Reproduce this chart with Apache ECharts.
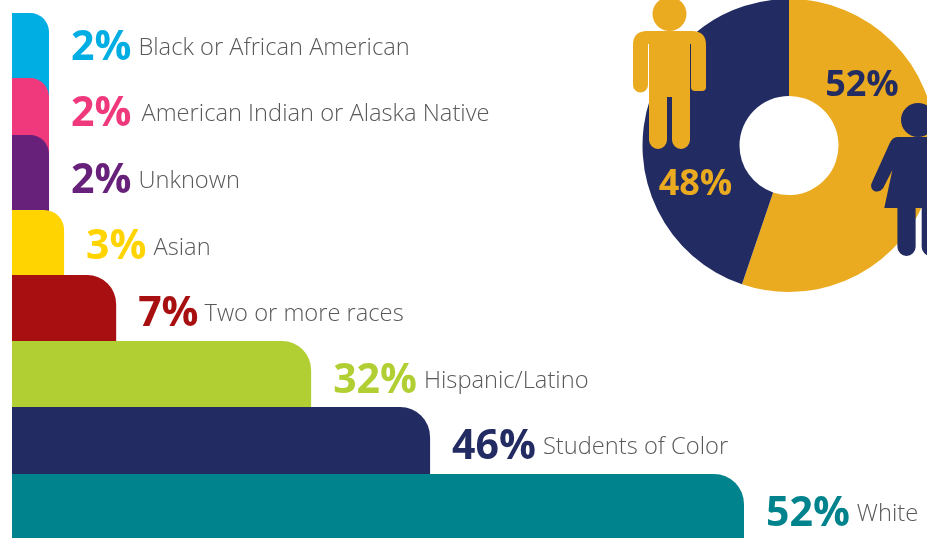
<!DOCTYPE html>
<html><head><meta charset="utf-8">
<style>html,body{margin:0;padding:0;background:#fff}#c{width:927px;height:538px}</style>
<script src="https://cdn.jsdelivr.net/npm/echarts@6/dist/echarts.min.js"></script>
</head><body><div id="c"></div>
<script>
// Data
const groupNames = ['Black or African American','American Indian or Alaska Native','Unknown','Asian','Two or more races','Hispanic/Latino','Students of Color','White'];
const groupPercents = [2,2,2,3,7,32,46,52];
// Bar lengths as drawn in the picture (the artwork is not to scale with its printed numbers)
const drawnLengths = [2.63,2.63,2.63,3.7,7.4,21.25,29.7,52];
// Tier thickness as drawn
const drawnThickness = [65,57,75,65,66,66,67,64];
const genderLabels = ['52%','48%'];
// Slice shares as drawn
const drawnShares = [55.2,44.8];

// Styles
const barColors = ['#00AEE3','#F0397C','#68217A','#FFD400','#A80F10','#B1CF33','#222B62','#00838C'];
const cornerRadii = [19,19,19,20,29,29,30,30];
const sliceColors = ['#EBAB21','#222B62'];
const labelColors = ['#222B62','#EBAB21'];
const labelSpots = [[862,86],[695.5,185]];
const firstTop = 13, firstTextY = 48, textStep = 66.6, textGap = 22;
const nameGaps = [7,10,7,7,6,7,7,7];

const tierTops = [];
drawnThickness.reduce((t, h, i) => { tierTops[i] = t; return t + h; }, firstTop);

const manPath = 'M633 45Q633 31 647 31H692Q706 31 706 45V87Q706 91 702 91H695Q691 91 691 87V44H690V140A9 9 0 0 1 672 140V97H667V140A9 9 0 0 1 649 140V44H648V85A7.5 7.5 0 0 1 633 85Z';
const womanPath = 'M898 137H950V208H940V247A9 9 0 0 1 922 247V208H916V247A9 9 0 0 1 898 247V208H885L893 170L884 188Q880 193 875 191Q870 188 873 182L890 144Q893 137 898 137Z';

const chart = echarts.init(document.getElementById('c'), null, {renderer:'canvas'});
chart.setOption({
  animation:false,
  backgroundColor:'#fff',
  grid:{left:12,top:0,width:915,height:538},
  xAxis:{type:'value',min:0,max:65,show:false},
  yAxis:{type:'value',min:0,max:538,inverse:true,show:false},
  series:[
    {
      type:'custom',
      coordinateSystem:'cartesian2d',
      clip:false,
      z:2,
      data:drawnLengths.map((v,i)=>[v,tierTops[i],drawnThickness[i]]),
      renderItem:(params,api)=>{
        const i=params.dataIndex;
        const a=api.coord([0,api.value(1)]);
        const b=api.coord([api.value(0),api.value(1)+api.value(2)]);
        const r=cornerRadii[i];
        return {type:'rect',shape:{x:a[0],y:a[1],width:b[0]-a[0],height:b[1]-a[1]+r,r:[0,r,0,0]},style:{fill:barColors[i]}};
      }
    },
    {
      type:'custom',
      coordinateSystem:'cartesian2d',
      clip:false,
      z:3,
      data:drawnLengths.map((v,i)=>[v,firstTextY+i*textStep]),
      renderItem:(params,api)=>{
        const i=params.dataIndex;
        const p=api.coord([api.value(0),api.value(1)]);
        return {type:'text',style:{
          x:p[0]+textGap,y:p[1],verticalAlign:'middle',align:'left',
          text:'{p|'+groupPercents[i]+'%}{g|}{n|'+groupNames[i]+'}',
          rich:{
            p:{fontFamily:'"Open Sans"',fontWeight:700,fontSize:41,fill:barColors[i],color:barColors[i]},
            g:{width:nameGaps[i]},
            n:{fontFamily:'"Open Sans"',fontWeight:300,fontSize:23.7,fill:'#58595B',color:'#58595B'}
          }
        }};
      }
    },
    {
      type:'pie',
      center:[789,145.5],
      radius:[49.5,146.5],
      startAngle:90,
      clockwise:true,
      silent:true,
      z:4,
      data:drawnShares.map((v,i)=>({value:v,name:genderLabels[i],itemStyle:{color:sliceColors[i]},
        label:{color:labelColors[i]}})),
      label:{show:true,position:'inside',formatter:'{b}',fontFamily:'"Open Sans"',fontWeight:700,fontSize:36},
      labelLine:{show:false},
      labelLayout:p=>({x:labelSpots[p.dataIndex][0],y:labelSpots[p.dataIndex][1],align:'center',verticalAlign:'middle'})
    },
    {
      type:'custom',
      coordinateSystem:'none',
      silent:true,
      clip:false,
      z:10,
      data:[0],
      renderItem:()=>({type:'group',children:[
        {type:'circle',shape:{cx:669.5,cy:14,r:17},style:{fill:'#EBAB21'}},
        {type:'path',shape:{pathData:manPath,layout:'cover',x:633,y:31,width:73,height:118},style:{fill:'#EBAB21'}},
        {type:'circle',shape:{cx:918,cy:120,r:17},style:{fill:'#222B62'}},
        {type:'path',shape:{pathData:womanPath,layout:'cover',x:871,y:137,width:79,height:119},style:{fill:'#222B62'}}
      ]})
    }
  ]
});
</script></body></html>
